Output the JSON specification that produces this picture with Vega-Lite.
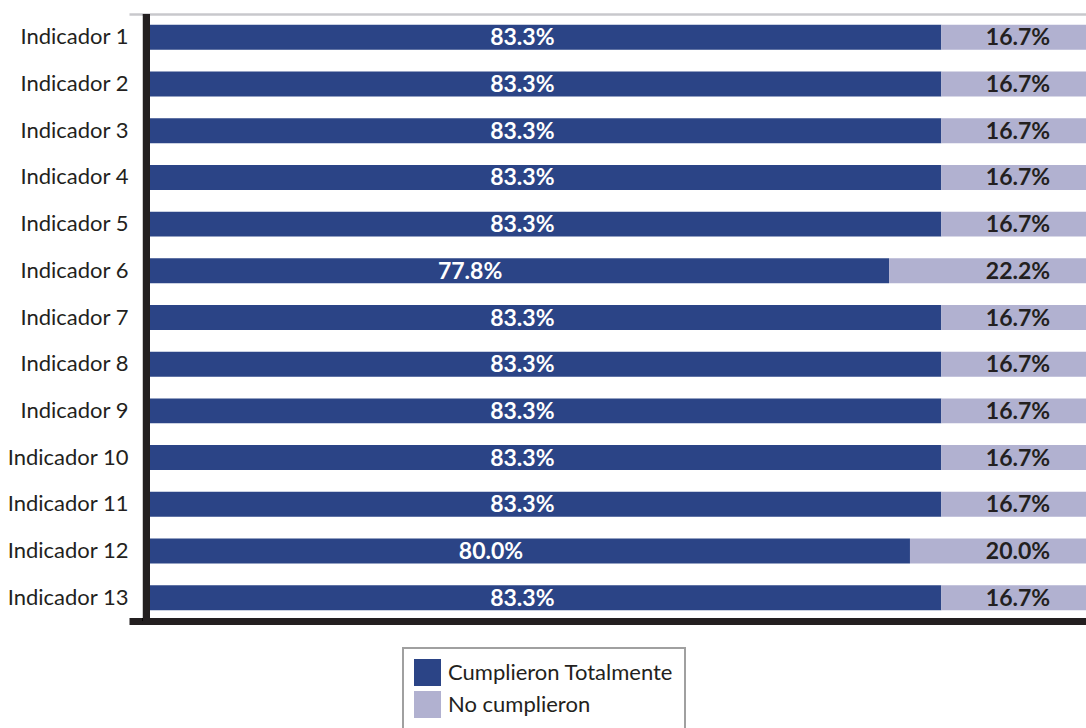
{
  "$schema": "https://vega.github.io/schema/vega-lite/v6.json",
  "width": 957,
  "height": 607,
  "autosize": {"type": "none"},
  "padding": {"left": 129, "top": 14, "right": 0, "bottom": 107},
  "background": "#ffffff",
  "config": {
    "view": {"stroke": null},
    "font": "Lato",
    "legend": {"strokeWidth": 2}
  },
  "data": {
    "values": [
      {"indicador": "Indicador 1", "estado": "Cumplieron Totalmente", "pct": 0.833},
      {"indicador": "Indicador 1", "estado": "No cumplieron", "pct": 0.167},
      {"indicador": "Indicador 2", "estado": "Cumplieron Totalmente", "pct": 0.833},
      {"indicador": "Indicador 2", "estado": "No cumplieron", "pct": 0.167},
      {"indicador": "Indicador 3", "estado": "Cumplieron Totalmente", "pct": 0.833},
      {"indicador": "Indicador 3", "estado": "No cumplieron", "pct": 0.167},
      {"indicador": "Indicador 4", "estado": "Cumplieron Totalmente", "pct": 0.833},
      {"indicador": "Indicador 4", "estado": "No cumplieron", "pct": 0.167},
      {"indicador": "Indicador 5", "estado": "Cumplieron Totalmente", "pct": 0.833},
      {"indicador": "Indicador 5", "estado": "No cumplieron", "pct": 0.167},
      {"indicador": "Indicador 6", "estado": "Cumplieron Totalmente", "pct": 0.778},
      {"indicador": "Indicador 6", "estado": "No cumplieron", "pct": 0.222},
      {"indicador": "Indicador 7", "estado": "Cumplieron Totalmente", "pct": 0.833},
      {"indicador": "Indicador 7", "estado": "No cumplieron", "pct": 0.167},
      {"indicador": "Indicador 8", "estado": "Cumplieron Totalmente", "pct": 0.833},
      {"indicador": "Indicador 8", "estado": "No cumplieron", "pct": 0.167},
      {"indicador": "Indicador 9", "estado": "Cumplieron Totalmente", "pct": 0.833},
      {"indicador": "Indicador 9", "estado": "No cumplieron", "pct": 0.167},
      {"indicador": "Indicador 10", "estado": "Cumplieron Totalmente", "pct": 0.833},
      {"indicador": "Indicador 10", "estado": "No cumplieron", "pct": 0.167},
      {"indicador": "Indicador 11", "estado": "Cumplieron Totalmente", "pct": 0.833},
      {"indicador": "Indicador 11", "estado": "No cumplieron", "pct": 0.167},
      {"indicador": "Indicador 12", "estado": "Cumplieron Totalmente", "pct": 0.8},
      {"indicador": "Indicador 12", "estado": "No cumplieron", "pct": 0.2},
      {"indicador": "Indicador 13", "estado": "Cumplieron Totalmente", "pct": 0.833},
      {"indicador": "Indicador 13", "estado": "No cumplieron", "pct": 0.167}
    ]
  },
  "layer": [
    {
      "mark": {"type": "bar", "clip": true},
      "encoding": {
        "y": {
          "field": "indicador",
          "type": "nominal",
          "sort": null,
          "scale": {"paddingInner": 0.465, "paddingOuter": 0.2325},
          "axis": {
            "title": null,
            "domain": false,
            "ticks": false,
            "labelPadding": 1,
            "labelFont": "Lato",
            "labelFontSize": 22,
            "labelColor": "#231f20"
          }
        },
        "x": {
          "field": "pct",
          "type": "quantitative",
          "stack": "zero",
          "scale": {"domain": [-0.0221, 0.9853], "nice": false, "zero": false},
          "axis": {
            "orient": "bottom",
            "title": null,
            "labels": false,
            "ticks": false,
            "grid": false,
            "domain": true,
            "domainColor": "#231f20",
            "domainWidth": 7
          }
        },
        "color": {
          "field": "estado",
          "type": "nominal",
          "scale": {
            "domain": ["Cumplieron Totalmente", "No cumplieron"],
            "range": ["#2B4486", "#B1B1D0"]
          },
          "legend": {
            "title": null,
            "orient": "none",
            "legendX": 274,
            "legendY": 634,
            "direction": "vertical",
            "symbolType": "square",
            "symbolSize": 729,
            "symbolStrokeWidth": 0,
            "symbolOpacity": 1,
            "labelFont": "Lato",
            "labelFontSize": 22,
            "labelLimit": 400,
            "labelColor": "#231f20",
            "labelOffset": 7,
            "strokeColor": "#a0a0a0",
            "padding": 11,
            "rowPadding": 5
          }
        }
      }
    },
    {
      "transform": [{"filter": "datum.estado === 'Cumplieron Totalmente'"}],
      "mark": {
        "type": "text",
        "font": "Lato",
        "fontWeight": "bold",
        "fontSize": 23,
        "color": "#ffffff",
        "align": "center",
        "baseline": "middle",
        "dx": -419,
        "dy": 1
      },
      "encoding": {
        "y": {"field": "indicador", "type": "nominal", "sort": null},
        "x": {
          "field": "pct",
          "type": "quantitative",
          "axis": {
            "orient": "top",
            "title": null,
            "labels": false,
            "ticks": false,
            "grid": false,
            "domain": true,
            "domainColor": "#c8c8cc",
            "domainWidth": 2.5
          }
        },
        "text": {"field": "pct", "type": "quantitative", "format": ".1%"}
      }
    },
    {
      "transform": [{"filter": "datum.estado === 'No cumplieron'"}],
      "mark": {
        "type": "text",
        "font": "Lato",
        "fontWeight": "bold",
        "fontSize": 23,
        "color": "#231f20",
        "align": "center",
        "baseline": "middle",
        "dx": -82,
        "dy": 1
      },
      "encoding": {
        "y": {"field": "indicador", "type": "nominal", "sort": null},
        "x": {"datum": 1, "type": "quantitative", "axis": null},
        "text": {"field": "pct", "type": "quantitative", "format": ".1%"}
      }
    },
    {
      "mark": {
        "type": "rule",
        "color": "#231f20",
        "strokeWidth": 7,
        "xOffset": -3.5,
        "y2Offset": 10
      },
      "encoding": {
        "x": {"datum": 0, "type": "quantitative", "axis": null}
      }
    }
  ],
  "resolve": {"axis": {"x": "independent"}}
}
